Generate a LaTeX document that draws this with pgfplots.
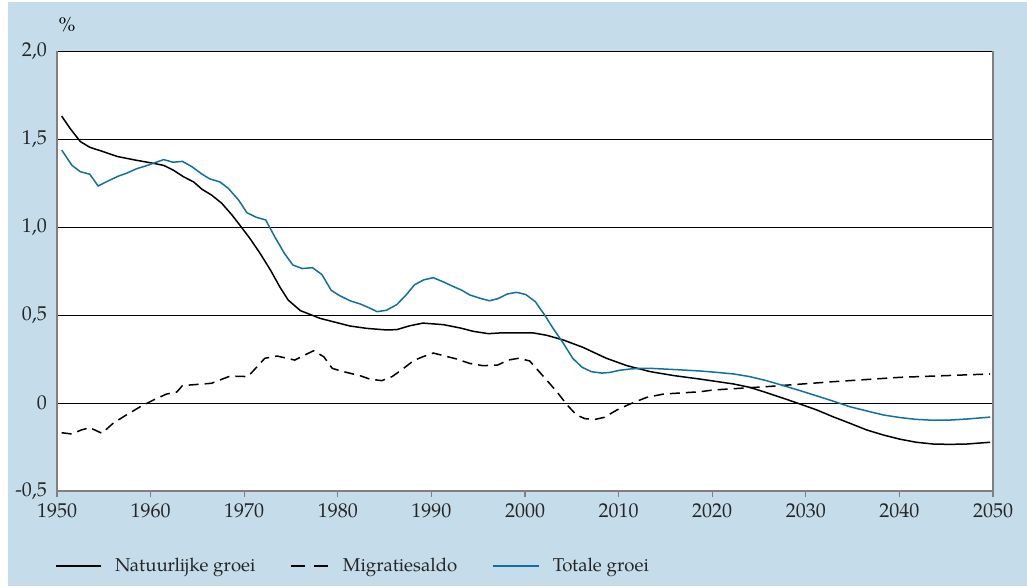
\documentclass[border=0pt]{standalone}
\usepackage{pgfplots}
\pgfplotsset{compat=1.18}
\usepackage{fontspec}
\setmainfont{TeX Gyre Pagella}
\definecolor{bg}{RGB}{197,220,234}
\definecolor{tblue}{RGB}{16,112,160}
\begin{document}
\begin{tikzpicture}[x=1pt,y=1pt]
\useasboundingbox (0,0) rectangle (513.5,293);
\fill[bg] (4,0) rectangle (513.5,292);
\node[font=\fontsize{10}{12}\selectfont] at (33.5,280.5) {\%};
\begin{axis}[
  at={(28.5pt,47.5pt)}, anchor=south west,
  scale only axis, width=468pt, height=220pt,
  xmin=1950, xmax=2050, ymin=-0.5, ymax=2,
  axis background/.style={fill=white},
  axis x line*=bottom, axis y line*=box,
  axis line style={draw=gray, line width=0.7pt},
  xtick={1950,1960,...,2050},
  xticklabels={1950,1960,1970,1980,1990,2000,2010,2020,2030,2040,2050},
  xtick align=outside, ytick align=inside,
  major tick length=3pt,
  xtick style={draw=gray, line width=0.6pt},
  ytick={-0.5,0,0.5,1,1.5,2},
  yticklabels={{-0,5},{0},{0,5},{1,0},{1,5},{2,0}},
  ytick style={draw=none},
  ymajorgrids, grid style={black, line width=0.5pt},
  tick label style={font=\fontsize{10}{12}\selectfont, text=black!85},
  yticklabel style={xshift=-1.5pt},
  legend style={at={(-0.002,-0.17)}, anchor=west, draw=none, fill=none,
    inner sep=0pt, font=\fontsize{9.3}{12}\selectfont, text=black!85,
    nodes={inner sep=0pt},
    /tikz/every odd column/.append style={column sep=6.5pt},
    /tikz/every even column/.append style={column sep=17.5pt},
    /tikz/column 3/.append style={column sep=10pt},
    /tikz/column 4/.append style={column sep=23.5pt},
    /tikz/column 5/.append style={column sep=8.5pt}},
  legend columns=3,
  clip=false,
]
\addplot[black, line width=0.75pt,
  legend image code/.code={\draw[black, line width=0.75pt] (0pt,0pt) -- (22.5pt,0pt);}]
coordinates {
(1950.5,1.63) (1951.4,1.56) (1952.5,1.485) (1953.5,1.453) (1954.6,1.434)
(1956.5,1.40) (1958.5,1.379) (1960.3,1.362) (1961.4,1.35) (1962.4,1.324)
(1963.5,1.286) (1964.6,1.256) (1965.5,1.214) (1966.5,1.182) (1967.6,1.135)
(1968.7,1.068) (1969.6,1.006) (1970.6,0.936) (1971.7,0.85) (1972.8,0.756)
(1973.8,0.66) (1974.7,0.585) (1976.0,0.525) (1978.1,0.481) (1981.3,0.4375)
(1983.1,0.424) (1985.2,0.415) (1986.3,0.417) (1987.7,0.439) (1989.1,0.454)
(1991.3,0.445) (1993.1,0.426) (1994.5,0.407) (1996.1,0.394) (1997.3,0.398)
(1999.1,0.398) (2000.9,0.398) (2002.3,0.385) (2004.1,0.358) (2006.2,0.316)
(2008.7,0.254) (2010.9,0.212) (2013.4,0.178) (2016.0,0.155) (2018.7,0.136)
(2022.3,0.108) (2024.0,0.089) (2025.8,0.059) (2027.6,0.027) (2029.4,-0.006)
(2031.2,-0.04) (2032.9,-0.078) (2034.7,-0.115) (2036.5,-0.153) (2038.3,-0.182)
(2040.1,-0.206) (2041.8,-0.223) (2043.6,-0.233) (2045.4,-0.235) (2047.2,-0.233)
(2049.7,-0.223)
};
\addlegendentry{Natuurlijke groei}
\addplot[black, line width=0.75pt, dash pattern=on 5pt off 3pt,
  legend image code/.code={\draw[black, line width=0.75pt, dash pattern=on 7pt off 4.5pt] (0pt,0pt) -- (19pt,0pt);}]
coordinates {
(1950.5,-0.169) (1951.6,-0.176) (1952.6,-0.153) (1953.5,-0.14) (1954.8,-0.172)
(1956.0,-0.115) (1957.4,-0.068) (1958.9,-0.021) (1960.3,0.017) (1961.7,0.051)
(1962.8,0.0625) (1963.4,0.099) (1966.5,0.112) (1968.5,0.153) (1970.4,0.15)
(1972.2,0.254) (1973.5,0.267) (1975.4,0.244) (1977.4,0.297) (1978.5,0.263)
(1979.4,0.197) (1980.2,0.184) (1981.3,0.169) (1982.4,0.155) (1983.4,0.136)
(1984.7,0.127) (1985.8,0.15) (1986.8,0.1875) (1988.1,0.241) (1989.1,0.263)
(1990.2,0.284) (1991.3,0.269) (1992.7,0.25) (1994.1,0.225) (1995.5,0.212)
(1997.1,0.216) (1998.2,0.244) (1999.3,0.254) (2000.5,0.239) (2001.2,0.197)
(2002.3,0.131) (2003.4,0.064) (2004.5,-0.011) (2005.5,-0.068) (2006.4,-0.089)
(2007.5,-0.093) (2008.5,-0.081) (2009.8,-0.04) (2011.2,-0.006) (2013.0,0.032)
(2014.8,0.051) (2018.7,0.064) (2020.1,0.074) (2025.8,0.093) (2032.9,0.121)
(2040.1,0.146) (2049.7,0.165)
};
\addlegendentry{Migratiesaldo}
\addplot[tblue, line width=0.75pt,
  legend image code/.code={\draw[tblue, line width=0.75pt] (0pt,0pt) -- (23pt,0pt);}]
coordinates {
(1950.5,1.4375) (1951.6,1.35) (1952.5,1.314) (1953.5,1.30) (1954.4,1.233)
(1955.5,1.263) (1956.6,1.29) (1957.4,1.305) (1958.5,1.331) (1959.6,1.349)
(1960.5,1.366) (1961.4,1.383) (1962.4,1.368) (1963.4,1.373) (1964.4,1.343)
(1965.5,1.30) (1966.3,1.274) (1967.4,1.256) (1968.3,1.22) (1969.4,1.153)
(1970.3,1.081) (1971.3,1.055) (1972.3,1.04) (1973.3,0.941) (1974.3,0.85)
(1975.2,0.784) (1976.2,0.764) (1977.3,0.769) (1978.3,0.73) (1979.3,0.64)
(1980.2,0.61) (1981.3,0.581) (1982.4,0.5625) (1983.3,0.542) (1984.2,0.519)
(1985.2,0.527) (1986.3,0.559) (1987.3,0.614) (1988.2,0.672) (1989.2,0.70)
(1990.2,0.712) (1991.3,0.6875) (1992.2,0.665) (1993.2,0.642) (1994.1,0.614)
(1995.2,0.595) (1996.2,0.581) (1997.1,0.593) (1998.1,0.619) (1999.1,0.629)
(2000.1,0.616) (2001.1,0.576) (2002.1,0.50) (2003.0,0.424) (2004.1,0.339)
(2005.1,0.254) (2006.1,0.203) (2007.1,0.178) (2008.2,0.170) (2009.1,0.174)
(2010.1,0.186) (2011.2,0.193) (2012.3,0.197) (2013.4,0.197) (2016.0,0.19)
(2018.7,0.182) (2020.5,0.174) (2022.3,0.165) (2024.0,0.15) (2025.8,0.127)
(2027.6,0.099) (2029.4,0.07) (2031.2,0.04) (2032.9,0.011) (2034.7,-0.021)
(2036.5,-0.045) (2038.3,-0.068) (2040.1,-0.083) (2041.8,-0.093) (2043.6,-0.098)
(2045.4,-0.097) (2047.2,-0.091) (2049.7,-0.08)
};
\addlegendentry{Totale groei}
\end{axis}
\end{tikzpicture}
\end{document}
